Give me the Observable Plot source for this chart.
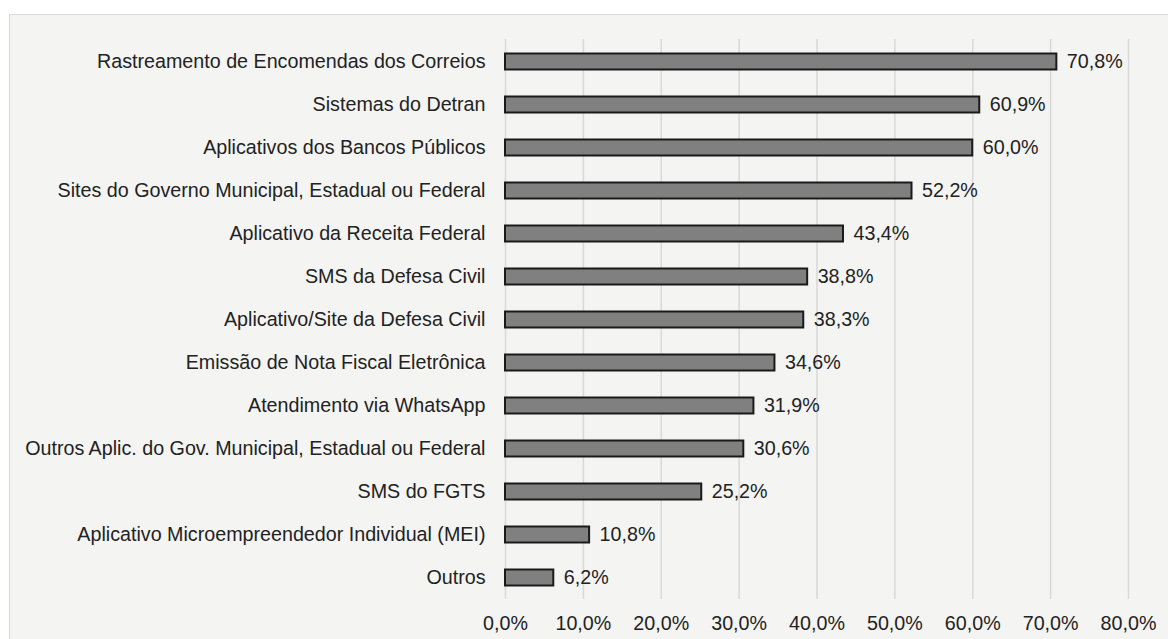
<!DOCTYPE html>
<html>
<head>
<meta charset="utf-8">
<script src="https://cdn.jsdelivr.net/npm/d3@7"></script>
<script src="https://cdn.jsdelivr.net/npm/@observablehq/plot@0.6"></script>
<style>
  html, body { margin: 0; padding: 0; background: #ffffff; overflow: hidden; }
  #frame { position: absolute; left: 9px; top: 14px; width: 1180px; height: 650px;
           background: #f4f4f3; border: 1px solid #d9d9d9; box-sizing: border-box; }
  #chart { position: absolute; left: 0; top: 0; }
</style>
</head>
<body>
<div id="frame"></div>
<div id="chart"></div>
<script>
const categories = [
  "Rastreamento de Encomendas dos Correios",
  "Sistemas do Detran",
  "Aplicativos dos Bancos Públicos",
  "Sites do Governo Municipal, Estadual ou Federal",
  "Aplicativo da Receita Federal",
  "SMS da Defesa Civil",
  "Aplicativo/Site da Defesa Civil",
  "Emissão de Nota Fiscal Eletrônica",
  "Atendimento via WhatsApp",
  "Outros Aplic. do Gov. Municipal, Estadual ou Federal",
  "SMS do FGTS",
  "Aplicativo Microempreendedor Individual (MEI)",
  "Outros"
];
const values = [70.8, 60.9, 60.0, 52.2, 43.4, 38.8, 38.3, 34.6, 31.9, 30.6, 25.2, 10.8, 6.2];
const xTicks = [0, 10, 20, 30, 40, 50, 60, 70, 80];

const data = categories.map((c, i) => ({category: c, value: values[i]}));
const fmt = v => d3.format(".1f")(v).replace(".", ",") + "%";

const chart = Plot.plot({
  width: 1168,
  height: 639,
  marginLeft: 505,
  marginRight: 40,
  marginTop: 39,
  marginBottom: 40,
  style: { fontFamily: "'Liberation Sans', Arial, sans-serif", fontSize: "19.7px", background: "transparent", color: "#222" },
  x: { domain: [0, 80], ticks: xTicks, tickFormat: fmt },
  y: { domain: categories, padding: 0 },
  marks: [
    Plot.ruleX(xTicks, { stroke: "#d9d9d9", strokeWidth: 1.5 }),
    Plot.barX(data, { x: "value", y: "category", fill: "#808080", stroke: "#1a1a1a", strokeWidth: 2, insetTop: 13.5, insetBottom: 13.5 }),
    Plot.text(data, { x: "value", y: "category", text: d => fmt(d.value), textAnchor: "start", dx: 10, fill: "#222", fontSize: 19.7 }),
    Plot.axisX({ ticks: xTicks, tickFormat: fmt, tickSize: 0, tickPadding: 16, fontSize: 19.7, fill: "#222", label: null }),
    Plot.axisY({ tickSize: 0, tickPadding: 20, fontSize: 19.7, fill: "#222", label: null })
  ]
});
document.getElementById("chart").appendChild(chart);
</script>
</body>
</html>
